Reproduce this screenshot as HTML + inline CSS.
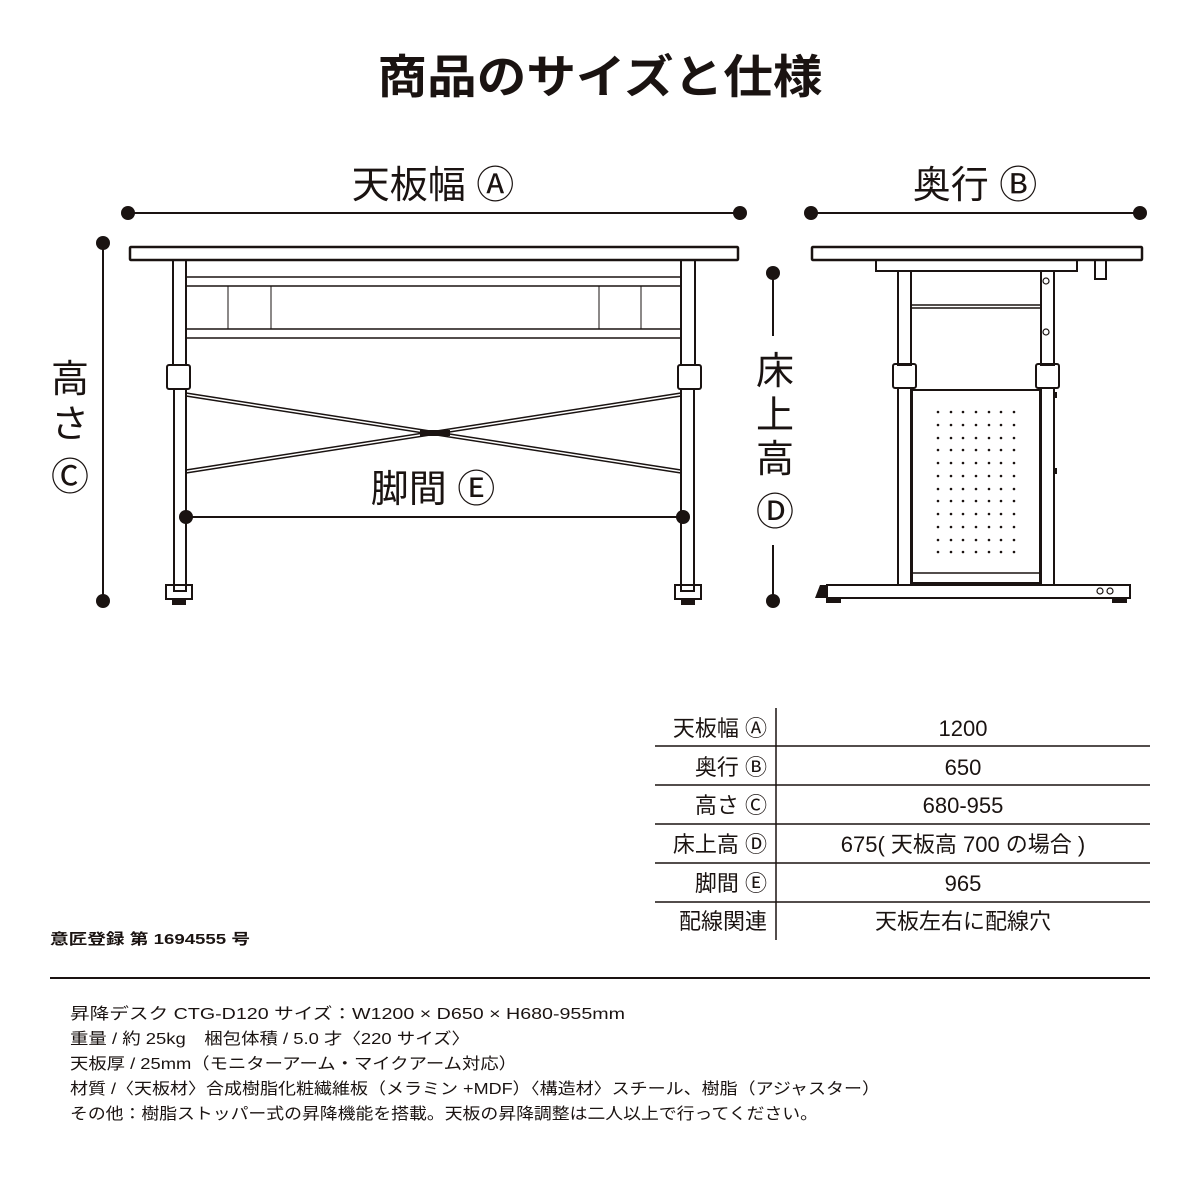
<!DOCTYPE html>
<html><head><meta charset="utf-8"><style>
html,body{margin:0;padding:0;background:#fff}
svg{display:block}
text{font-family:"Liberation Sans","Noto Sans CJK JP",sans-serif;fill:#1a1311}
</style></head><body>
<svg width="1200" height="1200" viewBox="0 0 1200 1200" xmlns="http://www.w3.org/2000/svg">
<rect width="1200" height="1200" fill="#fff"/>
<text x="600" y="93" font-size="46" font-weight="bold" text-anchor="middle" textLength="445" lengthAdjust="spacingAndGlyphs">商品のサイズと仕様</text>

<g stroke="#1a1311" fill="none">
<!-- dimension lines -->
<line x1="128" y1="213" x2="740" y2="213" stroke-width="2"/>
<line x1="811" y1="213" x2="1140" y2="213" stroke-width="2"/>
<line x1="103" y1="243" x2="103" y2="601" stroke-width="2"/>
<line x1="773" y1="273" x2="773" y2="336" stroke-width="2"/>
<line x1="773" y1="545" x2="773" y2="601" stroke-width="2"/>
<line x1="186" y1="517" x2="683" y2="517" stroke-width="2"/>

<!-- FRONT VIEW -->
<rect x="130" y="247" width="608" height="13" stroke-width="2.5" rx="1"/>
<rect x="173" y="260" width="13" height="105" stroke-width="2"/>
<rect x="681" y="260" width="14" height="105" stroke-width="2"/>
<rect x="174" y="389" width="12" height="202" stroke-width="2"/>
<rect x="681" y="389" width="13" height="202" stroke-width="2"/>
<rect x="167" y="365" width="23" height="24" stroke-width="2" rx="2"/>
<rect x="678" y="365" width="23" height="24" stroke-width="2" rx="2"/>
<line x1="186" y1="277" x2="681" y2="277" stroke-width="1.5"/>
<line x1="186" y1="286" x2="681" y2="286" stroke-width="1.5"/>
<line x1="186" y1="329" x2="681" y2="329" stroke-width="1.5"/>
<line x1="186" y1="338" x2="681" y2="338" stroke-width="1.5"/>
<line x1="228" y1="286" x2="228" y2="329" stroke-width="1"/>
<line x1="271" y1="286" x2="271" y2="329" stroke-width="1"/>
<line x1="599" y1="286" x2="599" y2="329" stroke-width="1"/>
<line x1="641" y1="286" x2="641" y2="329" stroke-width="1"/>
<line x1="186" y1="393" x2="681" y2="470" stroke-width="1.5"/>
<line x1="186" y1="396" x2="681" y2="473" stroke-width="1.5"/>
<line x1="186" y1="470" x2="681" y2="393" stroke-width="1.5"/>
<line x1="186" y1="473" x2="681" y2="396" stroke-width="1.5"/>
<rect x="166" y="585" width="26" height="14" stroke-width="2"/>
<rect x="675" y="585" width="26" height="14" stroke-width="2"/>
</g>
<g fill="#1a1311">
<rect x="172" y="599" width="14" height="6"/><rect x="681" y="599" width="14" height="6"/>
<rect x="420" y="430" width="30" height="6"/>
<circle cx="128" cy="213" r="7"/><circle cx="740" cy="213" r="7"/>
<circle cx="811" cy="213" r="7"/><circle cx="1140" cy="213" r="7"/>
<circle cx="103" cy="243" r="7"/><circle cx="103" cy="601" r="7"/>
<circle cx="773" cy="273" r="7"/><circle cx="773" cy="601" r="7"/>
<circle cx="186" cy="517" r="7"/><circle cx="683" cy="517" r="7"/>
</g>

<!-- SIDE VIEW -->
<g stroke="#1a1311" fill="none">
<rect x="812" y="247" width="330" height="13" stroke-width="2.5" rx="1"/>
<rect x="876" y="260" width="201" height="11" stroke-width="2"/>
<rect x="1095" y="260" width="11" height="19" stroke-width="2"/>
<rect x="898" y="271" width="13" height="94" stroke-width="2"/>
<rect x="1041" y="271" width="13" height="94" stroke-width="2"/>
<line x1="911" y1="305" x2="1041" y2="305" stroke-width="1.5"/>
<line x1="911" y1="308" x2="1041" y2="308" stroke-width="1.5"/>
<rect x="893" y="364" width="23" height="24" stroke-width="2" rx="2"/>
<rect x="1036" y="364" width="23" height="24" stroke-width="2" rx="2"/>
<rect x="898" y="388" width="13" height="197" stroke-width="2"/>
<rect x="1041" y="388" width="13" height="197" stroke-width="2"/>
<rect x="912" y="390" width="128" height="193" stroke-width="2"/>
<line x1="912" y1="573" x2="1040" y2="573" stroke-width="1.5"/>
<rect x="827" y="585" width="303" height="13" stroke-width="2"/>
<circle cx="1046" cy="281" r="3" stroke-width="1.2"/>
<circle cx="1046" cy="332" r="3" stroke-width="1.2"/>
<circle cx="1100" cy="591" r="3" stroke-width="1.2"/>
<circle cx="1110" cy="591" r="3" stroke-width="1.2"/>
</g>
<g fill="#1a1311">
<polygon points="815,598 820,585 827,585 827,598"/>
<rect x="826" y="598" width="15" height="5"/><rect x="1112" y="598" width="15" height="5"/>
<rect x="1054" y="392" width="3" height="6"/><rect x="1054" y="468" width="3" height="6"/>
</g>
<g fill="#1a1311" id="dots"></g>

<!-- labels -->
<text x="433" y="198" font-size="38" text-anchor="middle">天板幅 Ⓐ</text>
<text x="975" y="198" font-size="38" text-anchor="middle">奥行 Ⓑ</text>
<text x="433" y="502" font-size="38" text-anchor="middle">脚間 Ⓔ</text>
<text x="70" y="392" font-size="38" text-anchor="middle">高</text>
<text x="70" y="437" font-size="38" text-anchor="middle">さ</text>
<text x="70" y="490" font-size="38" text-anchor="middle">Ⓒ</text>
<text x="775" y="384" font-size="38" text-anchor="middle">床</text>
<text x="775" y="428" font-size="38" text-anchor="middle">上</text>
<text x="775" y="472" font-size="38" text-anchor="middle">高</text>
<text x="775" y="525" font-size="38" text-anchor="middle">Ⓓ</text>

<!-- table -->
<g stroke="#1a1311" stroke-width="1.5">
<line x1="776" y1="708" x2="776" y2="940"/>
<line x1="655" y1="746" x2="1150" y2="746"/>
<line x1="655" y1="785" x2="1150" y2="785"/>
<line x1="655" y1="824" x2="1150" y2="824"/>
<line x1="655" y1="863" x2="1150" y2="863"/>
<line x1="655" y1="902" x2="1150" y2="902"/>
<line x1="50" y1="978" x2="1150" y2="978" stroke-width="2"/>
</g>
<g font-size="22">
<text x="767" y="736" text-anchor="end">天板幅 Ⓐ</text>
<text x="767" y="775" text-anchor="end">奥行 Ⓑ</text>
<text x="767" y="813" text-anchor="end">高さ Ⓒ</text>
<text x="767" y="852" text-anchor="end">床上高 Ⓓ</text>
<text x="767" y="891" text-anchor="end">脚間 Ⓔ</text>
<text x="767" y="929" text-anchor="end">配線関連</text>
<text x="963" y="736" text-anchor="middle">1200</text>
<text x="963" y="775" text-anchor="middle">650</text>
<text x="963" y="813" text-anchor="middle">680-955</text>
<text x="963" y="852" text-anchor="middle">675( 天板高 700 の場合 )</text>
<text x="963" y="891" text-anchor="middle">965</text>
<text x="963" y="929" text-anchor="middle">天板左右に配線穴</text>
</g>
<text x="50" y="944" font-size="15" font-weight="bold" textLength="200" lengthAdjust="spacingAndGlyphs">意匠登録 第 1694555 号</text>
<g font-size="16">
<text x="70" y="1019" textLength="555" lengthAdjust="spacingAndGlyphs">昇降デスク CTG-D120 サイズ：W1200 × D650 × H680-955mm</text>
<text x="70" y="1044" textLength="400" lengthAdjust="spacingAndGlyphs">重量 / 約 25kg　梱包体積 / 5.0 才〈220 サイズ〉</text>
<text x="70" y="1069" textLength="447" lengthAdjust="spacingAndGlyphs">天板厚 / 25mm（モニターアーム・マイクアーム対応）</text>
<text x="70" y="1094" textLength="810" lengthAdjust="spacingAndGlyphs">材質 /〈天板材〉合成樹脂化粧繊維板（メラミン +MDF）〈構造材〉スチール、樹脂（アジャスター）</text>
<text x="70" y="1119" textLength="748" lengthAdjust="spacingAndGlyphs">その他：樹脂ストッパー式の昇降機能を搭載。天板の昇降調整は二人以上で行ってください。</text>
</g>
<g fill="#1a1311">
<circle cx="938" cy="412" r="1.3"/><circle cx="951" cy="412" r="1.3"/><circle cx="963" cy="412" r="1.3"/><circle cx="976" cy="412" r="1.3"/><circle cx="989" cy="412" r="1.3"/><circle cx="1001" cy="412" r="1.3"/><circle cx="1014" cy="412" r="1.3"/>
<circle cx="938" cy="425" r="1.3"/><circle cx="951" cy="425" r="1.3"/><circle cx="963" cy="425" r="1.3"/><circle cx="976" cy="425" r="1.3"/><circle cx="989" cy="425" r="1.3"/><circle cx="1001" cy="425" r="1.3"/><circle cx="1014" cy="425" r="1.3"/>
<circle cx="938" cy="438" r="1.3"/><circle cx="951" cy="438" r="1.3"/><circle cx="963" cy="438" r="1.3"/><circle cx="976" cy="438" r="1.3"/><circle cx="989" cy="438" r="1.3"/><circle cx="1001" cy="438" r="1.3"/><circle cx="1014" cy="438" r="1.3"/>
<circle cx="938" cy="450" r="1.3"/><circle cx="951" cy="450" r="1.3"/><circle cx="963" cy="450" r="1.3"/><circle cx="976" cy="450" r="1.3"/><circle cx="989" cy="450" r="1.3"/><circle cx="1001" cy="450" r="1.3"/><circle cx="1014" cy="450" r="1.3"/>
<circle cx="938" cy="463" r="1.3"/><circle cx="951" cy="463" r="1.3"/><circle cx="963" cy="463" r="1.3"/><circle cx="976" cy="463" r="1.3"/><circle cx="989" cy="463" r="1.3"/><circle cx="1001" cy="463" r="1.3"/><circle cx="1014" cy="463" r="1.3"/>
<circle cx="938" cy="476" r="1.3"/><circle cx="951" cy="476" r="1.3"/><circle cx="963" cy="476" r="1.3"/><circle cx="976" cy="476" r="1.3"/><circle cx="989" cy="476" r="1.3"/><circle cx="1001" cy="476" r="1.3"/><circle cx="1014" cy="476" r="1.3"/>
<circle cx="938" cy="489" r="1.3"/><circle cx="951" cy="489" r="1.3"/><circle cx="963" cy="489" r="1.3"/><circle cx="976" cy="489" r="1.3"/><circle cx="989" cy="489" r="1.3"/><circle cx="1001" cy="489" r="1.3"/><circle cx="1014" cy="489" r="1.3"/>
<circle cx="938" cy="501" r="1.3"/><circle cx="951" cy="501" r="1.3"/><circle cx="963" cy="501" r="1.3"/><circle cx="976" cy="501" r="1.3"/><circle cx="989" cy="501" r="1.3"/><circle cx="1001" cy="501" r="1.3"/><circle cx="1014" cy="501" r="1.3"/>
<circle cx="938" cy="514" r="1.3"/><circle cx="951" cy="514" r="1.3"/><circle cx="963" cy="514" r="1.3"/><circle cx="976" cy="514" r="1.3"/><circle cx="989" cy="514" r="1.3"/><circle cx="1001" cy="514" r="1.3"/><circle cx="1014" cy="514" r="1.3"/>
<circle cx="938" cy="527" r="1.3"/><circle cx="951" cy="527" r="1.3"/><circle cx="963" cy="527" r="1.3"/><circle cx="976" cy="527" r="1.3"/><circle cx="989" cy="527" r="1.3"/><circle cx="1001" cy="527" r="1.3"/><circle cx="1014" cy="527" r="1.3"/>
<circle cx="938" cy="540" r="1.3"/><circle cx="951" cy="540" r="1.3"/><circle cx="963" cy="540" r="1.3"/><circle cx="976" cy="540" r="1.3"/><circle cx="989" cy="540" r="1.3"/><circle cx="1001" cy="540" r="1.3"/><circle cx="1014" cy="540" r="1.3"/>
<circle cx="938" cy="552" r="1.3"/><circle cx="951" cy="552" r="1.3"/><circle cx="963" cy="552" r="1.3"/><circle cx="976" cy="552" r="1.3"/><circle cx="989" cy="552" r="1.3"/><circle cx="1001" cy="552" r="1.3"/><circle cx="1014" cy="552" r="1.3"/>
</g>
</svg>
</body></html>
